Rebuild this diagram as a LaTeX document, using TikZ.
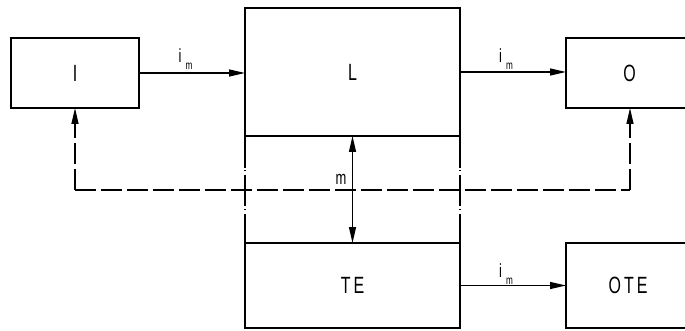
\documentclass[tikz,border=0pt]{standalone}
\usepackage{fontspec}
\newfontfamily\iso{Liberation Sans}[FakeStretch=0.68]
\usetikzlibrary{arrows.meta}
\newcommand\imlab{{\fontsize{19}{19}\selectfont i}\hspace{4pt}\raisebox{-7pt}{\fontsize{12}{12}\selectfont m}}
\begin{document}
\begin{tikzpicture}[x=1pt,y=-1pt,line width=1.3pt,
  blk/.style={draw,rectangle,inner sep=0pt,outer sep=0pt,font=\fontsize{23.5}{23.5}\selectfont\iso},
  tip/.tip={Triangle[length=16pt,width=7pt]},
  arr/.style={-tip},
  dsh/.style={dash pattern=on 21pt off 5pt},
  lab/.style={anchor=base west,inner sep=0pt,font=\iso}]
\clip (0,0) rectangle (685,331);
\fill[white] (0,0) rectangle (685,331);
\node[blk,minimum width=128pt,minimum height=70pt] (I) at (75,73) {I};
\node[blk,minimum width=215pt,minimum height=128pt] (L) at (352.5,72) {L};
\node[blk,minimum width=215pt,minimum height=85pt] (TE) at (352.5,285.5) {T\hspace{3pt}E};
\node[blk,minimum width=124pt,minimum height=70pt] (O) at (628,73) {\hspace{3pt}O};
\node[blk,minimum width=124pt,minimum height=85pt] (OTE) at (628,285.5) {O\hspace{3pt}T\hspace{3pt}E};
% middle section sides (dash-dot)
\draw[line width=1.4pt] (L.south west) -- ++(0,32) ++(0,2) -- ++(0,1.5) ++(0,3.5) -- ++(0,31) ++(0,3) -- ++(0,1.5) ++(0,3.5) -- (TE.north west);
\draw[line width=1.4pt] (L.south east) -- ++(0,32) ++(0,2) -- ++(0,1.5) ++(0,3.5) -- ++(0,31) ++(0,3) -- ++(0,1.5) ++(0,3.5) -- (TE.north east);
% flow arrows
\draw[arr] (I.east) -- (I.east -| L.west);
\draw[arr] (L.east) -- (L.east -| O.west);
\draw[arr] (TE.east) -- (TE.east -| OTE.west);
% feedback dashed line
\coordinate (c1) at (75,190);
\coordinate (c2) at (630,190);
\draw[dsh] (c1) -- (c2);
\draw[dsh,arr] (c1) -- (I.south);
\draw[dsh,arr] (c2) -- (c2 |- O.south);
% dimension
\draw[tip-tip] (L.south) -- (TE.north);
% labels
\node[lab] (im1) at (178,63) {\imlab};
\node[lab] (im2) at (498.5,63) {\imlab};
\node[lab] (im3) at (498.5,277) {\imlab};
\node[lab,anchor=base,font=\fontsize{19}{19}\selectfont\iso] (mlab) at (341,185) {m};
\end{tikzpicture}
\end{document}
